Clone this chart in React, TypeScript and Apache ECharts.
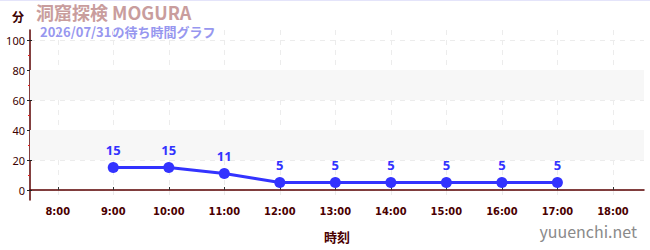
import React, { useEffect, useRef } from "react";
import * as echarts from "echarts";

const hours = [9, 10, 11, 12, 13, 14, 15, 16, 17];
const waits = [15, 15, 11, 5, 5, 5, 5, 5, 5];
const xTicks = [8, 9, 10, 11, 12, 13, 14, 15, 16, 17, 18];
const yMajor = [0, 20, 40, 60, 80, 100];
const yMinor = [10, 30, 50, 70, 90];
const bands: [number, number][] = [[20, 40], [60, 80]];
const titleText = "洞窟探検 MOGURA";
const subText = "2026/07/31の待ち時間グラフ";

const FONT = "'Noto Sans CJK JP', 'Noto Sans', sans-serif";
const AXIS = "#5a0000";

export default function App() {
  const ref = useRef<HTMLDivElement>(null);
  useEffect(() => {
    document.body.style.margin = "0";
    const chart = echarts.init(ref.current!, null, { renderer: "svg" });
    const yBase = {
      type: "value" as const,
      min: -20 / 3,
      max: 320 / 3,
    };
    chart.setOption({
      animation: false,
      textStyle: { fontFamily: FONT },
      grid: { left: 30, right: 6, top: 30, bottom: 50 },
      graphic: [
        { type: "text", left: 12, top: 10, style: { text: "分", fill: "#3a0000", font: `bold 12px ${FONT}` } },
        { type: "text", left: 36, top: 3, style: { text: titleText, fill: "#c99d9d", font: `bold 18px ${FONT}`, lineHeight: 18 } },
        { type: "text", left: 40, top: 25, style: { text: subText, fill: "#9797ef", font: `bold 13px ${FONT}`, lineHeight: 13 } },
        { type: "text", right: 13, top: 223, style: { text: "yuuenchi.net", fill: "#8a8a8a", font: `16px ${FONT}` } },
      ],
      xAxis: {
        type: "value",
        min: 7.5,
        max: 18.56,
        name: "時刻",
        nameLocation: "middle",
        nameGap: 30,
        nameTextStyle: { color: "#4a0000", fontWeight: "bold", fontSize: 13, fontFamily: FONT },
        axisLine: { show: true, lineStyle: { color: AXIS, width: 1.5 } },
        axisTick: { show: true, customValues: xTicks, length: 3, inside: true, lineStyle: { color: "#333" } },
        axisLabel: {
          customValues: xTicks,
          formatter: (v: number) => `${v}:00`,
          color: "#4a0000",
          fontSize: 11,
          fontWeight: "bold",
          fontFamily: "'Liberation Sans Narrow', 'DejaVu Sans Condensed', sans-serif",
          margin: 6,
        },
        splitLine: { show: true, lineStyle: { color: "#ececec", type: [5, 5], width: 1 } },
      },
      yAxis: [
        {
          ...yBase,
          axisLine: { show: true, lineStyle: { color: AXIS, width: 1.5 } },
          axisTick: { show: true, customValues: yMajor, length: 3, lineStyle: { color: "#222" } },
          axisLabel: { customValues: yMajor, color: "#3a0000", fontSize: 11, margin: 5, fontFamily: "'Noto Sans', sans-serif" },
          splitLine: { show: true, lineStyle: { color: "#ececec", type: [5, 5], width: 1 } },
        },
        {
          ...yBase,
          position: "left",
          axisLine: { show: false },
          axisTick: { show: true, customValues: yMajor, length: 2, inside: true, lineStyle: { color: "#222" } },
          axisLabel: { show: false },
          splitLine: { show: false },
        },
        {
          ...yBase,
          position: "left",
          axisLine: { show: false },
          axisTick: { show: true, customValues: yMinor, length: 2, lineStyle: { color: "#e02020" } },
          axisLabel: { show: false },
          splitLine: { show: false },
        },
      ],
      series: [
        {
          type: "line",
          data: hours.map((h, i) => [h, waits[i]]),
          lineStyle: { color: "#3333ff", width: 3 },
          itemStyle: { color: "#3333ff" },
          symbol: "circle",
          symbolSize: 11,
          label: {
            show: true,
            position: "top",
            distance: 6,
            color: "#3333ff",
            fontWeight: "bold",
            fontSize: 13,
            fontFamily: "'Noto Sans', sans-serif",
          },
          markArea: {
            silent: true,
            itemStyle: { color: "#f7f7f7" },
            data: bands.map(([a, b]) => [{ yAxis: a }, { yAxis: b }]),
          },
          z: 5,
        },
      ],
    });
    return () => chart.dispose();
  }, []);
  return (
    <div style={{ width: 650, height: 250, position: "relative", background: "#fff" }}>
      <div style={{ position: "absolute", left: 0, top: 0, width: 650, height: 1, background: "#e4e4fa", zIndex: 2 }} />
      <div ref={ref} style={{ width: 650, height: 250 }} />
    </div>
  );
}
